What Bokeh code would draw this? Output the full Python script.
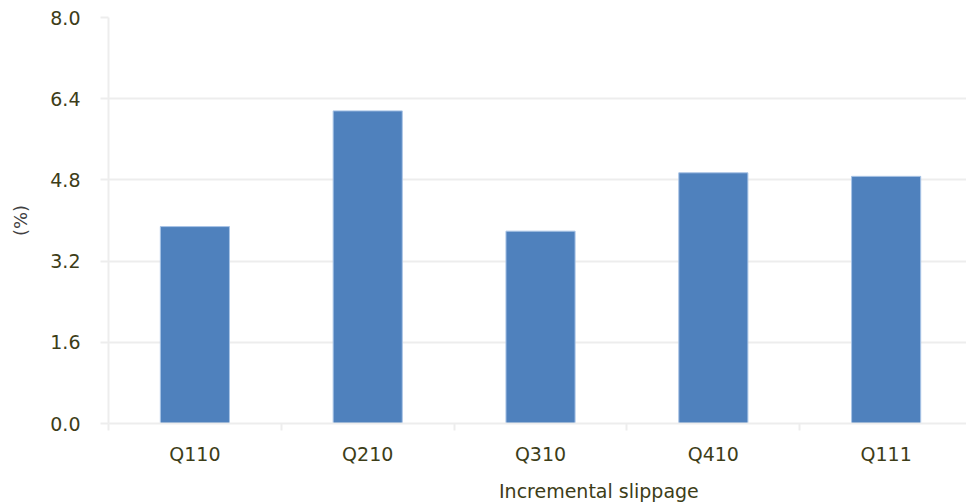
from bokeh.plotting import figure
from bokeh.layouts import column
from bokeh.models import Range1d, FixedTicker, Legend, LegendItem, ColumnDataSource
from bokeh.embed import file_html
from bokeh.resources import INLINE

categories = ["Q110", "Q210", "Q310", "Q410", "Q111"]
values = [3.88, 6.16, 3.79, 4.94, 4.87]
y_ticks = [0.0, 1.6, 3.2, 4.8, 6.4, 8.0]
series_name = "Incremental slippage"

xpos = [i + 0.5 for i in range(len(categories))]
src = ColumnDataSource(dict(x=xpos, top=values, cat=categories))

FONT = "DejaVu Sans"
LABEL_COLOR = "#3d3d18"
GRID = "#ededed"
FS = "19px"
BAR_FILL = "#4F81BD"
BAR_LINE = "#a9c4e6"

p = figure(width=966, height=468, output_backend="svg", toolbar_location=None,
           x_range=Range1d(0, 4.965), y_range=Range1d(0, 8.0))
p.min_border_left = 108
p.min_border_right = 0
p.min_border_top = 17
p.min_border_bottom = 45
p.outline_line_color = None
p.background_fill_color = "white"
p.border_fill_color = "white"

r = p.vbar(x="x", top="top", width=0.4, source=src, fill_color=BAR_FILL,
           line_color=BAR_LINE, line_width=1)

# y axis
p.yaxis.ticker = FixedTicker(ticks=y_ticks)
p.yaxis.major_label_overrides = {t: f"{t:.1f}" for t in y_ticks}
p.yaxis.axis_line_color = GRID
p.yaxis.axis_line_width = 2
p.yaxis.major_tick_line_color = GRID
p.yaxis.major_tick_line_width = 2
p.yaxis.major_tick_in = 0
p.yaxis.major_tick_out = 8
p.yaxis.minor_tick_line_color = None
p.yaxis.major_label_standoff = 20
p.yaxis.major_label_text_font = FONT
p.yaxis.major_label_text_font_size = FS
p.yaxis.major_label_text_color = LABEL_COLOR
p.yaxis.axis_label = "(%)"
p.yaxis.axis_label_text_font = FONT
p.yaxis.axis_label_text_font_style = "normal"
p.yaxis.axis_label_text_font_size = "18px"
p.yaxis.axis_label_text_color = "#404040"
p.yaxis.axis_label_standoff = 16

# x axis: labels at centers, ticks at boundaries (minor ticks)
p.xaxis.ticker = FixedTicker(ticks=xpos, minor_ticks=list(range(len(categories) + 1)))
p.xaxis.major_label_overrides = {x: c for x, c in zip(xpos, categories)}
p.xaxis.axis_line_color = GRID
p.xaxis.axis_line_width = 2
p.xaxis.major_tick_line_color = None
p.xaxis.minor_tick_line_color = GRID
p.xaxis.minor_tick_line_width = 2
p.xaxis.minor_tick_in = 0
p.xaxis.minor_tick_out = 7
p.xaxis.major_tick_out = 7
p.xaxis.major_label_standoff = 12
p.xaxis.major_label_text_font = FONT
p.xaxis.major_label_text_font_size = FS
p.xaxis.major_label_text_color = LABEL_COLOR

p.xgrid.grid_line_color = None
p.ygrid.ticker = FixedTicker(ticks=y_ticks)
p.ygrid.grid_line_color = GRID
p.ygrid.grid_line_width = 2

# legend strip below the chart
p2 = figure(width=966, height=35, output_backend="svg", toolbar_location=None,
            x_range=Range1d(0, 1), y_range=Range1d(0, 1),
            x_axis_type=None, y_axis_type=None)
p2.min_border = 0
p2.outline_line_color = None
p2.xgrid.grid_line_color = None
p2.ygrid.grid_line_color = None
r2 = p2.vbar(x=[], top=[], width=0.4, fill_color=BAR_FILL, line_color=BAR_LINE, line_width=1)

legend = Legend(items=[LegendItem(label=series_name, renderers=[r2])],
                orientation="horizontal", location=(373, 1),
                border_line_color=None, background_fill_alpha=0,
                label_text_font=FONT, label_text_font_size=FS,
                label_text_color=LABEL_COLOR, glyph_width=12, glyph_height=12,
                label_standoff=6, padding=0, margin=0, spacing=0)
p2.add_layout(legend, "center")

layout = column(p, p2, spacing=0)
open("out.html", "w").write(file_html(layout, INLINE))
